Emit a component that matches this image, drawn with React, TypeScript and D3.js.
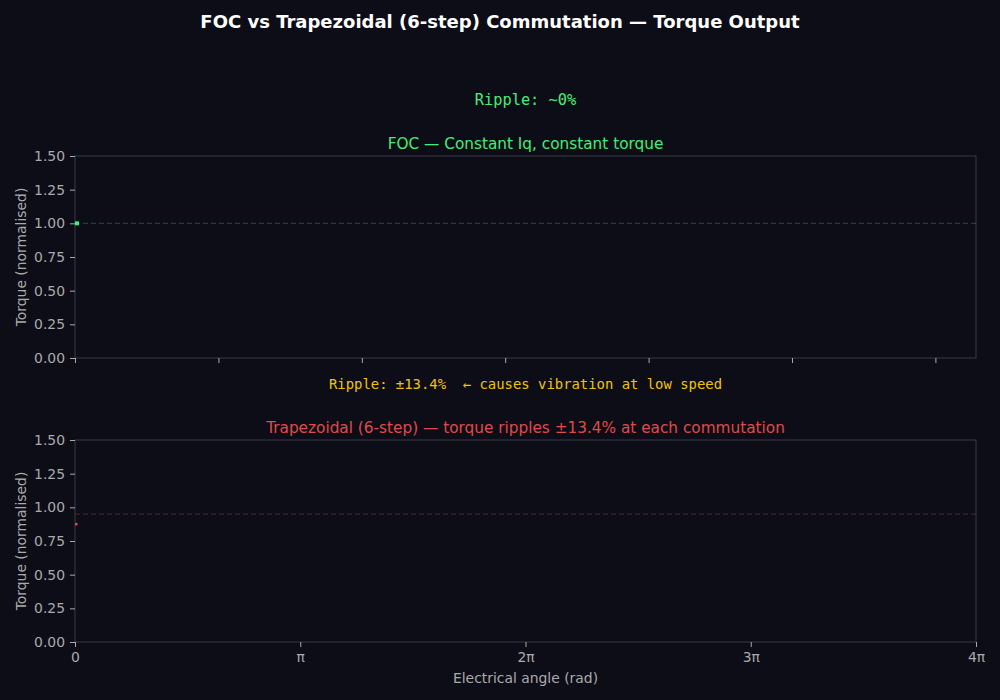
import { useEffect, useRef } from 'react';
import * as d3 from 'd3';

// first frame of the animation: a single sample per trace
const angle = [0];
const focTorque = [1.0];
const trapTorque = [0.875];

const focRef = 1.0;
const trapMean = 0.95;

const yTicks = [0, 0.25, 0.5, 0.75, 1.0, 1.25, 1.5];
const topXTicks = [0, 2, 4, 6, 8, 10, 12];
const piTicks = [0, 1, 2, 3, 4];
const piLabels = ['0', 'π', '2π', '3π', '4π'];

const BG = '#0d0d17';
const SPINE = '#3a3a44';
const TICK = '#aaaaaa';
const SANS = '"DejaVu Sans", sans-serif';
const MONO = '"DejaVu Sans Mono", monospace';

export default function App() {
  const ref = useRef<SVGSVGElement>(null);

  useEffect(() => {
    const svg = d3.select(ref.current);
    svg.selectAll('*').remove();

    const W = 1000;
    const H = 700;
    const left = 75;
    const right = 976;

    svg.append('rect').attr('width', W).attr('height', H).attr('fill', BG);

    svg
      .append('text')
      .attr('x', W / 2)
      .attr('y', 28)
      .attr('text-anchor', 'middle')
      .attr('fill', '#ffffff')
      .style('font-family', SANS)
      .style('font-weight', 'bold')
      .style('font-size', '18px')
      .text('FOC vs Trapezoidal (6-step) Commutation — Torque Output');

    const x = d3.scaleLinear().domain([0, 4 * Math.PI]).range([left, right]);

    const panel = (
      top: number,
      bottom: number,
      series: number[],
      refVal: number,
      color: string,
      refColor: string,
      markSize: number,
      title: string,
      note: string,
      noteColor: string,
      noteSize: string,
      noteY: number,
      isBottom: boolean
    ) => {
      const y = d3.scaleLinear().domain([0, 1.5]).range([bottom, top]);
      const g = svg.append('g');

      g.append('rect')
        .attr('x', left)
        .attr('y', top)
        .attr('width', right - left)
        .attr('height', bottom - top)
        .attr('fill', BG)
        .attr('stroke', SPINE)
        .attr('stroke-width', 1);

      // reference line
      g.append('line')
        .attr('x1', x(0))
        .attr('x2', x(4 * Math.PI))
        .attr('y1', y(refVal))
        .attr('y2', y(refVal))
        .attr('stroke', refColor)
        .attr('stroke-width', 1)
        .attr('stroke-dasharray', '5,3');

      // trace
      const line = d3
        .line<number>()
        .x((_, i) => x(angle[i]))
        .y((d) => y(d));
      g.append('path')
        .datum(series)
        .attr('d', line)
        .attr('fill', 'none')
        .attr('stroke', color)
        .attr('stroke-width', markSize)
        .attr('stroke-linecap', 'square')
        .attr('transform', `translate(${markSize / 2},0)`);

      // y axis
      const yAxis = g
        .append('g')
        .attr('transform', `translate(${left},0)`)
        .call(
          d3
            .axisLeft(y)
            .tickValues(yTicks)
            .tickFormat(d3.format('.2f'))
            .tickSize(5)
            .tickPadding(5)
        );
      yAxis.select('.domain').remove();
      yAxis.selectAll('line').attr('stroke', TICK);
      yAxis
        .selectAll('text')
        .attr('fill', TICK)
        .style('font-family', SANS)
        .style('font-size', '13.9px');

      // x axis
      const xAxis = g
        .append('g')
        .attr('transform', `translate(0,${bottom})`)
        .call(
          isBottom
            ? d3
                .axisBottom(x)
                .tickValues(piTicks.map((k) => k * Math.PI))
                .tickFormat((_, i) => piLabels[i])
                .tickSize(5)
                .tickPadding(5)
            : d3
                .axisBottom(x)
                .tickValues(topXTicks)
                .tickFormat(() => '')
                .tickSize(5)
        );
      xAxis.select('.domain').remove();
      xAxis.selectAll('line').attr('stroke', TICK);
      xAxis
        .selectAll('text')
        .attr('fill', TICK)
        .style('font-family', SANS)
        .style('font-size', '13.9px');

      g.append('text')
        .attr('transform', `translate(26,${(top + bottom) / 2}) rotate(-90)`)
        .attr('text-anchor', 'middle')
        .attr('fill', TICK)
        .style('font-family', SANS)
        .style('font-size', '13.9px')
        .text('Torque (normalised)');

      g.append('text')
        .attr('x', (left + right) / 2)
        .attr('y', top - 7)
        .attr('text-anchor', 'middle')
        .attr('fill', color)
        .style('font-family', SANS)
        .style('font-size', '15.3px')
        .text(title);

      g.append('text')
        .attr('x', (left + right) / 2)
        .attr('y', noteY)
        .attr('text-anchor', 'middle')
        .attr('fill', noteColor)
        .style('font-family', MONO)
        .style('font-size', noteSize)
        .style('white-space', 'pre')
        .text(note);
    };

    panel(
      156,
      358,
      focTorque,
      focRef,
      '#44ee7a',
      'rgba(68,238,122,0.3)',
      4,
      'FOC — Constant Iq, constant torque',
      'Ripple: ~0%',
      '#44ee7a',
      '15.3px',
      105,
      false
    );

    panel(
      440,
      642,
      trapTorque,
      trapMean,
      '#e04a4a',
      'rgba(224,74,74,0.35)',
      2.5,
      'Trapezoidal (6-step) — torque ripples ±13.4% at each commutation',
      'Ripple: ±13.4%  ← causes vibration at low speed',
      '#f2c400',
      '13.9px',
      389,
      true
    );

    svg
      .append('text')
      .attr('x', (left + right) / 2)
      .attr('y', 683)
      .attr('text-anchor', 'middle')
      .attr('fill', TICK)
      .style('font-family', SANS)
      .style('font-size', '13.9px')
      .text('Electrical angle (rad)');
  }, []);

  return (
    <svg
      ref={ref}
      width={1000}
      height={700}
      style={{ position: 'absolute', left: 0, top: 0, display: 'block' }}
    />
  );
}
